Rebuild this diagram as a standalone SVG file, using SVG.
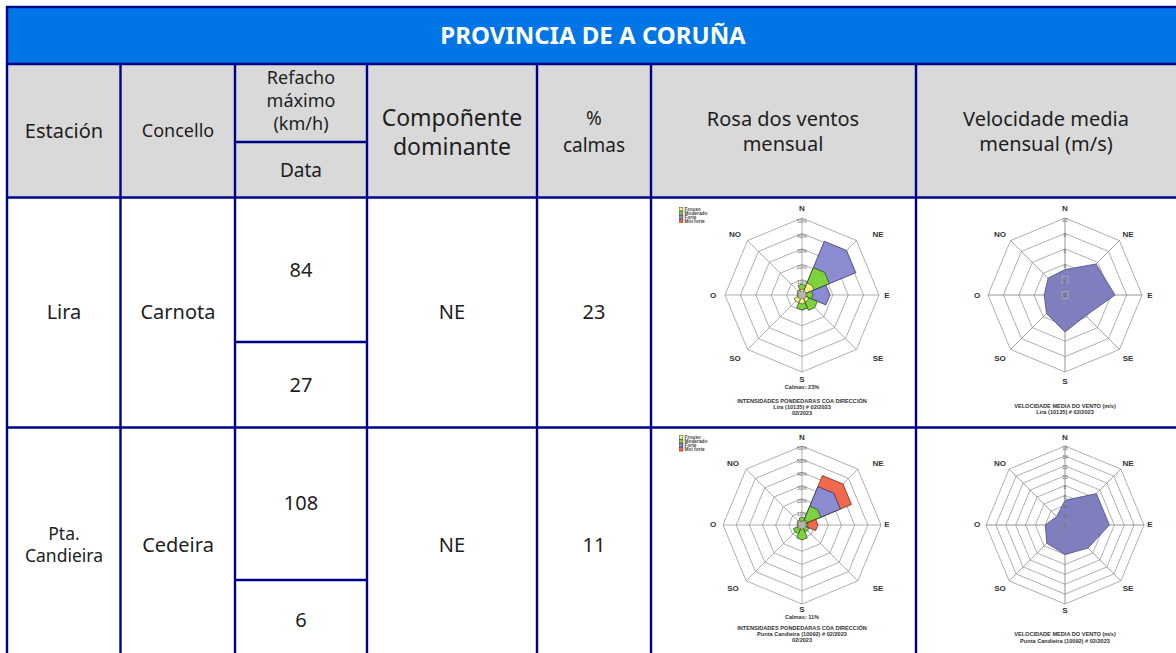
<svg xmlns="http://www.w3.org/2000/svg" width="1176" height="653" viewBox="0 0 1176 653">
<style>
.ln{stroke:#00008b;stroke-width:2.4;fill:none}
.tx{font-family:"Noto Sans","Open Sans",sans-serif;fill:#1e1e1e;text-anchor:middle}
.tt{font-family:"Noto Sans","Open Sans",sans-serif;font-weight:700;font-size:24px;fill:#fff;text-anchor:middle}
.grid polygon,.grid path{fill:none;stroke:#8c8c8c;stroke-width:0.7}
.cl{font-family:"Liberation Sans",Arial,sans-serif;font-weight:700;font-size:8px;fill:#333;text-anchor:middle}
.cs{font-family:"Liberation Sans",Arial,sans-serif;font-weight:700;font-size:5.6px;fill:#333;text-anchor:middle}
.cp{font-family:"Liberation Sans",Arial,sans-serif;font-size:5px;fill:#666;text-anchor:middle}
.lg{font-family:"Liberation Sans",Arial,sans-serif;font-weight:700;font-size:4.8px;fill:#444}
.fy{fill:#f4f08c;stroke:#4a4a2a}
.fg{fill:#7dd13c;stroke:#24401a}
.fb{fill:#8b8bd2;stroke:#26264f}
.fr{fill:#f0694c;stroke:#5a1e12}
.vp{fill:#7f7fc0;stroke:#4a4a88;stroke-width:0.8}
</style>
<defs>
<polygon id="pN" points="0,0 -0.3536,-0.8536 0,-1 0.3536,-0.8536"/>
<polygon id="pNE" points="0,0 0.3536,-0.8536 0.7071,-0.7071 0.8536,-0.3536"/>
<polygon id="pE" points="0,0 0.8536,-0.3536 1,0 0.8536,0.3536"/>
<polygon id="pSE" points="0,0 0.8536,0.3536 0.7071,0.7071 0.3536,0.8536"/>
<polygon id="pS" points="0,0 0.3536,0.8536 0,1 -0.3536,0.8536"/>
<polygon id="pSO" points="0,0 -0.3536,0.8536 -0.7071,0.7071 -0.8536,0.3536"/>
<polygon id="pO" points="0,0 -0.8536,0.3536 -1,0 -0.8536,-0.3536"/>
<polygon id="pNO" points="0,0 -0.8536,-0.3536 -0.7071,-0.7071 -0.3536,-0.8536"/>
</defs>
<rect width="1176" height="653" fill="#fff"/>

<g id="table">
<rect x="7" y="7" width="1170" height="57" fill="#0075e6"/>
<rect x="7" y="64" width="1170" height="133.5" fill="#d9d9d9"/>
<text class="tt" x="593" y="44">PROVINCIA DE A CORUÑA</text>
</g>

<g id="grid-lines">
<rect class="ln" x="7" y="7" width="1172" height="660"/>
<path class="ln" d="M7,64H1177M7,197.5H1177M7,427.5H1177M235,142H367M235,342H367M235,580H367M120.5,64V667M235,64V667M367,64V667M537,64V667M651,64V667M916,64V667"/>
</g>

<g id="header" class="tx">
<text x="64" y="138" font-size="20">Estación</text>
<text x="178" y="137" font-size="18">Concello</text>
<text x="301" y="84" font-size="18">Refacho</text>
<text x="301" y="107" font-size="18">máximo</text>
<text x="301" y="130" font-size="18">(km/h)</text>
<text x="301" y="177" font-size="19">Data</text>
<text x="452" y="126" font-size="23">Compoñente</text>
<text x="452" y="155" font-size="23">dominante</text>
<text x="594" y="125" font-size="19">%</text>
<text x="594" y="152" font-size="19">calmas</text>
<text x="783" y="126" font-size="20">Rosa dos ventos</text>
<text x="783" y="151" font-size="20">mensual</text>
<text x="1046" y="126" font-size="20">Velocidade media</text>
<text x="1046" y="151" font-size="20">mensual (m/s)</text>
</g>

<g id="row-lira" class="tx" font-size="20">
<text x="64" y="319">Lira</text>
<text x="178" y="319">Carnota</text>
<text x="301" y="277">84</text>
<text x="301" y="392">27</text>
<text x="452" y="319">NE</text>
<text x="594" y="319">23</text>
</g>

<g id="row-candieira" class="tx" font-size="20">
<text x="64" y="540" font-size="17.5">Pta.</text>
<text x="64" y="562" font-size="17.5">Candieira</text>
<text x="178" y="552">Cedeira</text>
<text x="301" y="510">108</text>
<text x="301" y="627">6</text>
<text x="452" y="552">NE</text>
<text x="594" y="552">11</text>
</g>

<g id="rose-lira">
<g transform="translate(802,295)">
<g class="grid">
<polygon points="0,-15.4 10.89,-10.89 15.4,0 10.89,10.89 0,15.4 -10.89,10.89 -15.4,0 -10.89,-10.89"/>
<polygon points="0,-30.8 21.78,-21.78 30.8,0 21.78,21.78 0,30.8 -21.78,21.78 -30.8,0 -21.78,-21.78"/>
<polygon points="0,-46.2 32.67,-32.67 46.2,0 32.67,32.67 0,46.2 -32.67,32.67 -46.2,0 -32.67,-32.67"/>
<polygon points="0,-61.6 43.56,-43.56 61.6,0 43.56,43.56 0,61.6 -43.56,43.56 -61.6,0 -43.56,-43.56"/>
<polygon points="0,-77 54.45,-54.45 77,0 54.45,54.45 0,77 -54.45,54.45 -77,0 -54.45,-54.45"/>
<path d="M0,-77V77M-77,0H77M-54.45,-54.45L54.45,54.45M54.45,-54.45L-54.45,54.45"/>
</g>
<use href="#pNE" class="fb" transform="scale(63)" stroke-width="0.0111"/>
<use href="#pNE" class="fg" transform="scale(32)" stroke-width="0.0219"/>
<use href="#pNE" class="fy" transform="scale(14)" stroke-width="0.05"/>
<use href="#pE" class="fb" transform="scale(28)" stroke-width="0.025"/>
<use href="#pE" class="fg" transform="scale(11)" stroke-width="0.0636"/>
<use href="#pE" class="fy" transform="scale(5)" stroke-width="0.14"/>
<use href="#pSE" class="fg" transform="scale(18)" stroke-width="0.039"/>
<use href="#pSE" class="fy" transform="scale(8)" stroke-width="0.0875"/>
<use href="#pS" class="fg" transform="scale(15)" stroke-width="0.0467"/>
<use href="#pS" class="fy" transform="scale(9)" stroke-width="0.078"/>
<use href="#pSO" class="fy" transform="scale(9)" stroke-width="0.078"/>
<use href="#pO" class="fg" transform="scale(5)" stroke-width="0.14"/>
<use href="#pO" class="fy" transform="scale(3)" stroke-width="0.233"/>
<use href="#pNO" class="fy" transform="scale(6)" stroke-width="0.117"/>
<use href="#pN" class="fg" transform="scale(11)" stroke-width="0.0636"/>
<use href="#pN" class="fy" transform="scale(6)" stroke-width="0.117"/>
<rect x="-3.5" y="-3.5" width="7" height="7" fill="#b5b5b5" stroke="#777" stroke-width="0.5"/>
</g>
<g class="cp">
<text x="802" y="222.5">50%</text><text x="802" y="238">40%</text><text x="802" y="253">30%</text><text x="802" y="268.5">20%</text><text x="802" y="284">10%</text>
</g>
<g class="cl">
<text x="802" y="211">N</text><text x="735" y="237">NO</text><text x="878" y="237">NE</text><text x="713" y="298">O</text><text x="887" y="298">E</text><text x="735" y="361">SO</text><text x="878" y="361">SE</text><text x="802" y="382">S</text>
</g>
<g class="cs">
<text x="802" y="389">Calmas: 23%</text>
<text x="802" y="403">INTENSIDADES PONDEDARAS COA DIRECCIÓN</text>
<text x="802" y="409">Lira (10135) # 02/2023</text>
<text x="802" y="415">02/2023</text>
</g>
<g>
<rect x="679.5" y="207.2" width="3.4" height="3.4" class="fy" stroke-width="0.5"/>
<rect x="679.5" y="211.2" width="3.4" height="3.4" class="fg" stroke-width="0.5"/>
<rect x="679.5" y="215.2" width="3.4" height="3.4" class="fb" stroke-width="0.5"/>
<rect x="679.5" y="219.2" width="3.4" height="3.4" class="fr" stroke-width="0.5"/>
<text class="lg" x="684.5" y="210.6">Frouxo</text>
<text class="lg" x="684.5" y="214.6">Moderado</text>
<text class="lg" x="684.5" y="218.6">Forte</text>
<text class="lg" x="684.5" y="222.6">Moi forte</text>
</g>
</g>

<g id="vel-lira">
<g transform="translate(1065,295)">
<g class="grid">
<polygon points="0,-15.4 10.89,-10.89 15.4,0 10.89,10.89 0,15.4 -10.89,10.89 -15.4,0 -10.89,-10.89"/>
<polygon points="0,-30.8 21.78,-21.78 30.8,0 21.78,21.78 0,30.8 -21.78,21.78 -30.8,0 -21.78,-21.78"/>
<polygon points="0,-46.2 32.67,-32.67 46.2,0 32.67,32.67 0,46.2 -32.67,32.67 -46.2,0 -32.67,-32.67"/>
<polygon points="0,-61.6 43.56,-43.56 61.6,0 43.56,43.56 0,61.6 -43.56,43.56 -61.6,0 -43.56,-43.56"/>
<polygon points="0,-77 54.45,-54.45 77,0 54.45,54.45 0,77 -54.45,54.45 -77,0 -54.45,-54.45"/>
<path d="M0,-77V77M-77,0H77M-54.45,-54.45L54.45,54.45M54.45,-54.45L-54.45,54.45"/>
</g>
<polygon class="vp" points="0,-25.4 31,-31 50.1,0 20.7,20.7 0,37 -18.5,18.5 -20.8,0 -16.9,-16.9"/>
<g class="grid"><path d="M0,-77V77M-77,0H77M-54.45,-54.45L54.45,54.45M54.45,-54.45L-54.45,54.45" stroke-opacity="0.5"/></g>
<rect x="-3" y="-3.5" width="6" height="7" fill="none" stroke="#bbb" stroke-width="0.6"/>
<rect x="-3" y="-18.9" width="6" height="7" fill="none" stroke="#bbb" stroke-width="0.6"/>
</g>
<g class="cp">
<text x="1065" y="222">10</text><text x="1065" y="237.4">8</text><text x="1065" y="253">6</text><text x="1065" y="268">4</text><text x="1065" y="283.5">2</text><text x="1065" y="297">0</text>
</g>
<g class="cl">
<text x="1065" y="211">N</text><text x="1000" y="237">NO</text><text x="1128" y="237">NE</text><text x="977" y="298">O</text><text x="1150" y="298">E</text><text x="1000" y="361">SO</text><text x="1128" y="361">SE</text><text x="1065" y="384">S</text>
</g>
<g class="cs">
<text x="1065" y="408">VELOCIDADE MEDIA DO VENTO (m/s)</text>
<text x="1065" y="414">Lira (10135) # 02/2023</text>
</g>
</g>

<g id="rose-candieira">
<g transform="translate(802,525)">
<g class="grid">
<polygon points="0,-13.17 9.31,-9.31 13.17,0 9.31,9.31 0,13.17 -9.31,9.31 -13.17,0 -9.31,-9.31"/>
<polygon points="0,-26.33 18.62,-18.62 26.33,0 18.62,18.62 0,26.33 -18.62,18.62 -26.33,0 -18.62,-18.62"/>
<polygon points="0,-39.5 27.93,-27.93 39.5,0 27.93,27.93 0,39.5 -27.93,27.93 -39.5,0 -27.93,-27.93"/>
<polygon points="0,-52.67 37.24,-37.24 52.67,0 37.24,37.24 0,52.67 -37.24,37.24 -52.67,0 -37.24,-37.24"/>
<polygon points="0,-65.83 46.55,-46.55 65.83,0 46.55,46.55 0,65.83 -46.55,46.55 -65.83,0 -46.55,-46.55"/>
<polygon points="0,-79 55.86,-55.86 79,0 55.86,55.86 0,79 -55.86,55.86 -79,0 -55.86,-55.86"/>
<path d="M0,-79V79M-79,0H79M-55.86,-55.86L55.86,55.86M55.86,-55.86L-55.86,55.86"/>
</g>
<use href="#pNE" class="fr" transform="scale(58)" stroke-width="0.012"/>
<use href="#pNE" class="fb" transform="scale(45)" stroke-width="0.0156"/>
<use href="#pNE" class="fg" transform="scale(22)" stroke-width="0.0318"/>
<use href="#pNE" class="fy" transform="scale(6)" stroke-width="0.117"/>
<use href="#pE" class="fr" transform="scale(16)" stroke-width="0.044"/>
<use href="#pE" class="fg" transform="scale(6)" stroke-width="0.117"/>
<use href="#pE" class="fy" transform="scale(3)" stroke-width="0.233"/>
<use href="#pSE" class="fg" transform="scale(8)" stroke-width="0.0875"/>
<use href="#pSE" class="fy" transform="scale(4)" stroke-width="0.175"/>
<use href="#pS" class="fg" transform="scale(15)" stroke-width="0.0467"/>
<use href="#pS" class="fy" transform="scale(5)" stroke-width="0.14"/>
<use href="#pSO" class="fg" transform="scale(10)" stroke-width="0.07"/>
<use href="#pSO" class="fy" transform="scale(4)" stroke-width="0.175"/>
<use href="#pO" class="fg" transform="scale(5)" stroke-width="0.14"/>
<use href="#pNO" class="fy" transform="scale(6)" stroke-width="0.117"/>
<use href="#pN" class="fg" transform="scale(8)" stroke-width="0.0875"/>
<use href="#pN" class="fy" transform="scale(4)" stroke-width="0.175"/>
<rect x="-3.5" y="-3.5" width="7" height="7" fill="#b5b5b5" stroke="#777" stroke-width="0.5"/>
</g>
<g class="cp">
<text x="802" y="450">60%</text><text x="802" y="463">50%</text><text x="802" y="476">40%</text><text x="802" y="489.5">30%</text><text x="802" y="503">20%</text><text x="802" y="516">10%</text>
</g>
<g class="cl">
<text x="802" y="440">N</text><text x="733" y="466">NO</text><text x="878" y="466">NE</text><text x="713" y="527">O</text><text x="887" y="527">E</text><text x="733" y="591">SO</text><text x="878" y="591">SE</text><text x="802" y="612">S</text>
</g>
<g class="cs">
<text x="802" y="619">Calmas: 11%</text>
<text x="802" y="630">INTENSIDADES PONDEDARAS COA DIRECCIÓN</text>
<text x="802" y="636">Punta Candieira (10092) # 02/2023</text>
<text x="802" y="642">02/2023</text>
</g>
<g>
<rect x="679.5" y="435.7" width="3.4" height="3.4" class="fy" stroke-width="0.5"/>
<rect x="679.5" y="439.7" width="3.4" height="3.4" class="fg" stroke-width="0.5"/>
<rect x="679.5" y="443.7" width="3.4" height="3.4" class="fb" stroke-width="0.5"/>
<rect x="679.5" y="447.7" width="3.4" height="3.4" class="fr" stroke-width="0.5"/>
<text class="lg" x="684.5" y="439.1">Frouxo</text>
<text class="lg" x="684.5" y="443.1">Moderado</text>
<text class="lg" x="684.5" y="447.1">Forte</text>
<text class="lg" x="684.5" y="451.1">Moi forte</text>
</g>
</g>

<g id="vel-candieira">
<g transform="translate(1065,525)">
<g class="grid">
<polygon points="0,-9.875 6.98,-6.98 9.875,0 6.98,6.98 0,9.875 -6.98,6.98 -9.875,0 -6.98,-6.98"/>
<polygon points="0,-19.75 13.97,-13.97 19.75,0 13.97,13.97 0,19.75 -13.97,13.97 -19.75,0 -13.97,-13.97"/>
<polygon points="0,-29.63 20.95,-20.95 29.63,0 20.95,20.95 0,29.63 -20.95,20.95 -29.63,0 -20.95,-20.95"/>
<polygon points="0,-39.5 27.93,-27.93 39.5,0 27.93,27.93 0,39.5 -27.93,27.93 -39.5,0 -27.93,-27.93"/>
<polygon points="0,-49.38 34.91,-34.91 49.38,0 34.91,34.91 0,49.38 -34.91,34.91 -49.38,0 -34.91,-34.91"/>
<polygon points="0,-59.25 41.9,-41.9 59.25,0 41.9,41.9 0,59.25 -41.9,41.9 -59.25,0 -41.9,-41.9"/>
<polygon points="0,-69.13 48.88,-48.88 69.13,0 48.88,48.88 0,69.13 -48.88,48.88 -69.13,0 -48.88,-48.88"/>
<polygon points="0,-79 55.86,-55.86 79,0 55.86,55.86 0,79 -55.86,55.86 -79,0 -55.86,-55.86"/>
<path d="M0,-79V79M-79,0H79M-55.86,-55.86L55.86,55.86M55.86,-55.86L-55.86,55.86"/>
</g>
<polygon class="vp" points="0,-24.7 31.4,-31.4 44.4,0 23.05,23.05 0,29.6 -18.2,18.2 -19.75,0 -8.4,-8.4"/>
<g class="grid"><path d="M0,-79V79M-79,0H79M-55.86,-55.86L55.86,55.86M55.86,-55.86L-55.86,55.86" stroke-opacity="0.5"/></g>
</g>
<g class="cp" font-size="4.4">
<text x="1065" y="449.5">16</text><text x="1065" y="459">14</text><text x="1065" y="469">12</text><text x="1065" y="479">10</text><text x="1065" y="488.5">8</text><text x="1065" y="498.5">6</text><text x="1065" y="508.5">4</text><text x="1065" y="518">2</text><text x="1065" y="527">0</text>
</g>
<g class="cl">
<text x="1065" y="440">N</text><text x="1000" y="466">NO</text><text x="1128" y="466">NE</text><text x="977" y="527">O</text><text x="1150" y="527">E</text><text x="1000" y="591">SO</text><text x="1128" y="591">SE</text><text x="1065" y="613">S</text>
</g>
<g class="cs">
<text x="1065" y="636">VELOCIDADE MEDIA DO VENTO (m/s)</text>
<text x="1065" y="643">Punta Candieira (10092) # 02/2023</text>
</g>
</g>
</svg>
